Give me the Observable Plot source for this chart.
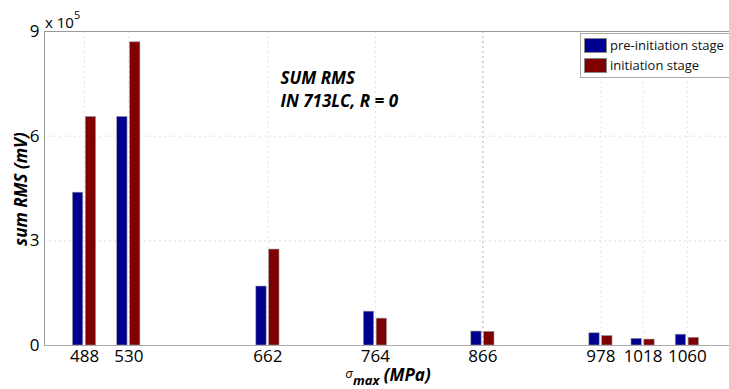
<!DOCTYPE html>
<html><head><meta charset="utf-8">
<script src="https://cdn.jsdelivr.net/npm/d3@7"></script>
<script src="https://cdn.jsdelivr.net/npm/@observablehq/plot@0.6"></script>
<style>
body{margin:0;background:#fff;font-family:"Open Sans",sans-serif;}
#wrap{position:relative;width:729px;height:389px;overflow:hidden;}
#legend{position:absolute;left:580px;top:33px;width:160px;height:43px;border:1px solid #aaa;background:#fff;font-size:13px;color:#111;}
#legend .row{position:absolute;left:3px;height:16px;display:flex;align-items:center;}
#legend .sw{width:23px;height:15px;margin-right:3px;box-sizing:border-box;border:1px solid #888;}
</style></head>
<body><div id="wrap"></div>
<script>
const stress = [488, 530, 662, 764, 866, 978, 1018, 1060];
const preInitiation = [438000, 655000, 169000, 97000, 40000, 35000, 19000, 31000];
const initiation = [655000, 869000, 275000, 77000, 39000, 27000, 17000, 22000];
const series = ["pre-initiation stage", "initiation stage"];
const colors = ["#00008f", "#7f0000"];
const yTicks = [0, 300000, 600000, 900000];
const note = ["SUM RMS", "IN 713LC, R = 0"];

const rows = [];
stress.forEach((s, i) => {
  rows.push({x: s, v: preInitiation[i], s: series[0], off: -1});
  rows.push({x: s, v: initiation[i], s: series[1], off: 1});
});
const halfGap = 1.2, barW = 9.8;

const plot = Plot.plot({
  width: 729, height: 389,
  marginLeft: 44, marginRight: 0, marginTop: 31, marginBottom: 44,
  style: {fontFamily: "Open Sans, sans-serif", fontSize: "17px", color: "#000", background: "#fff"},
  x: {type: "linear", domain: [450, 1100], ticks: stress, tickFormat: d => String(d), tickSize: 0, tickPadding: 4, label: null},
  y: {domain: [0, 900000], ticks: yTicks, tickFormat: d => String(d / 1e5), tickSize: 0, tickPadding: 5, label: null},
  color: {domain: series, range: colors},
  marks: [
    Plot.ruleY([300000, 600000], {stroke: "#dedede", strokeDasharray: "2,3"}),
    Plot.ruleX(stress, {stroke: "#e4e4e4", strokeDasharray: "2,3"}),
    Plot.ruleX([866], {stroke: "#bbb", strokeDasharray: "2,3"}),
    Plot.rectY(rows, {
      x1: d => d.off < 0 ? d.x - halfGap - barW : d.x + halfGap,
      x2: d => d.off < 0 ? d.x - halfGap : d.x + halfGap + barW,
      y1: 0, y2: "v", fill: "s", stroke: "#999", strokeWidth: 0.6
    }),
    Plot.frame({anchor: "top", stroke: "#999"}),
    Plot.frame({anchor: "left", stroke: "#999"}),
    Plot.ruleY([0], {stroke: "#aaa"}),
    Plot.text([note[0]], {frameAnchor: "top-left", dx: 236, dy: 40, text: d => d,
      fontWeight: "bold", fontStyle: "italic", fontSize: 17, textAnchor: "start", fill: "#000"}),
    Plot.text([note[1]], {frameAnchor: "top-left", dx: 236, dy: 63, text: d => d,
      fontWeight: "bold", fontStyle: "italic", fontSize: 17, textAnchor: "start", fill: "#000"})
  ]
});
const wrap = document.getElementById("wrap");
wrap.appendChild(plot);

const svg = d3.select(plot);
// y label
svg.append("text").attr("transform", "translate(27,189) rotate(-90)")
  .attr("text-anchor", "middle").attr("font-weight", "bold").attr("font-style", "italic")
  .attr("font-size", 17).attr("fill", "#000").text("sum RMS (mV)");
// exponent
const ex = svg.append("text").attr("x", 45).attr("y", 28).attr("text-anchor", "start").attr("font-size", 15).attr("fill", "#000");
ex.append("tspan").text("x 10");
ex.append("tspan").attr("dy", -9).attr("font-size", 11).text("5");
// x label
const xl = svg.append("text").attr("x", 388).attr("y", 381).attr("text-anchor", "middle").attr("fill", "#000");
xl.append("tspan").attr("font-size", 13).attr("font-style", "italic").attr("dy", -3).text("σ");
xl.append("tspan").attr("font-size", 13).attr("font-weight", "bold").attr("font-style", "italic").attr("dy", 7).text("max");
xl.append("tspan").attr("font-size", 17).attr("font-weight", "bold").attr("font-style", "italic").attr("dy", -4).text(" (MPa)");

// legend
const lg = document.createElement("div");
lg.id = "legend";
series.forEach((s, i) => {
  const r = document.createElement("div");
  r.className = "row";
  r.style.top = (3 + i * 20) + "px";
  r.innerHTML = `<span class="sw" style="background:${colors[i]}"></span><span>${s}</span>`;
  lg.appendChild(r);
});
wrap.appendChild(lg);
</script></body></html>
